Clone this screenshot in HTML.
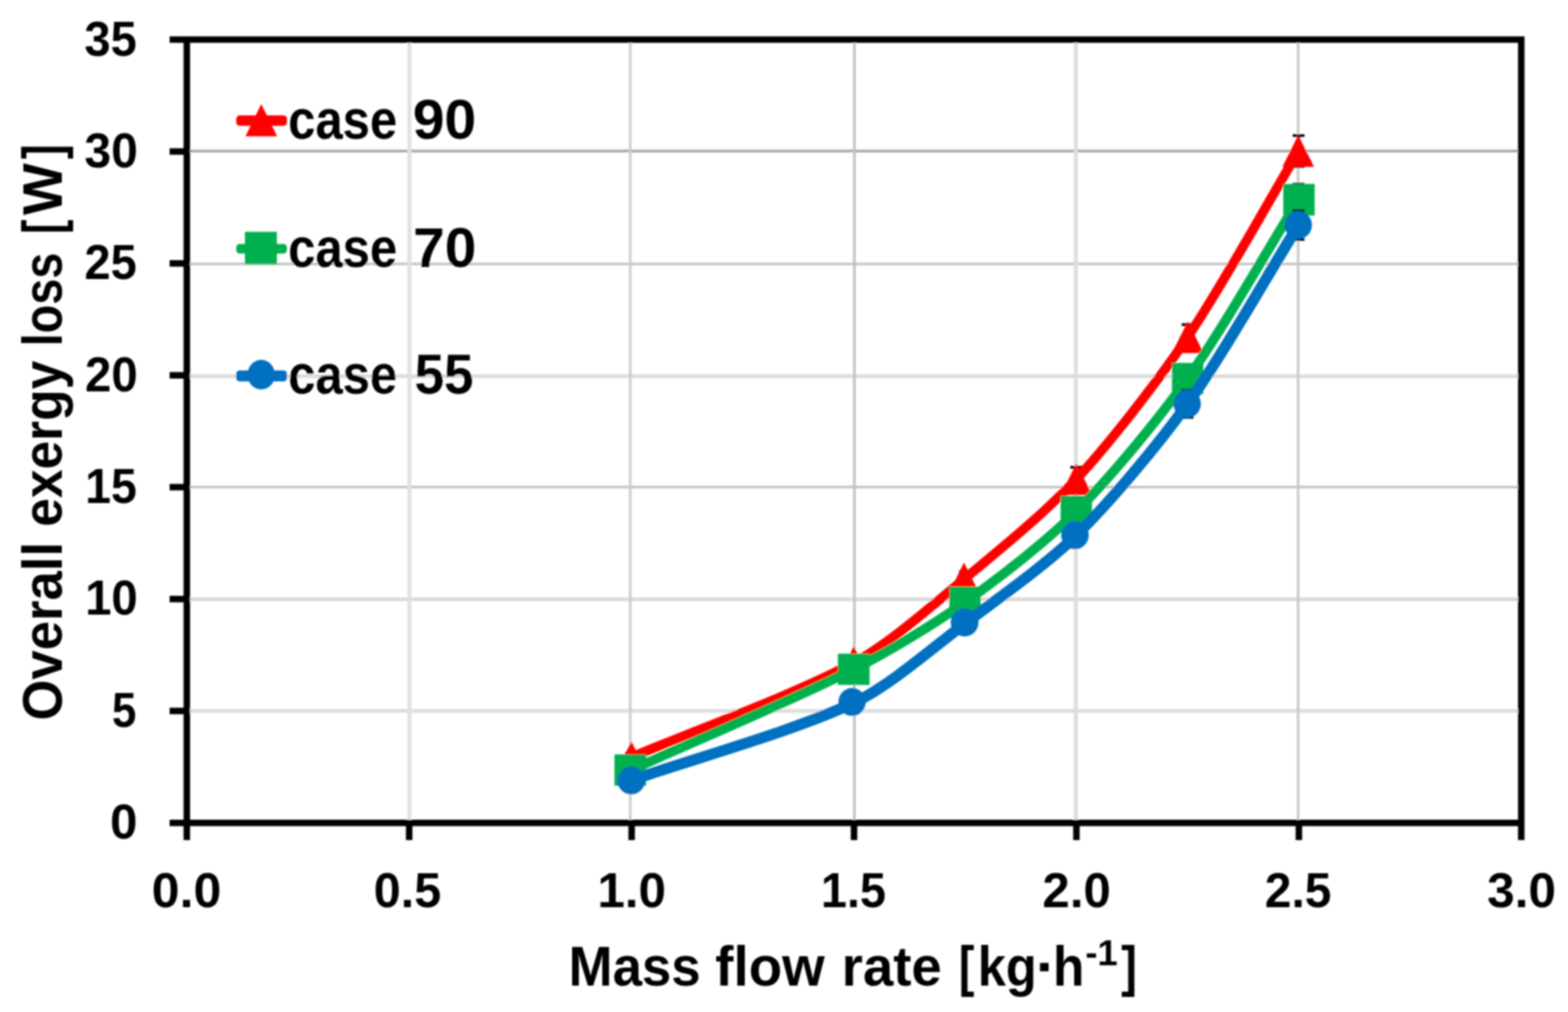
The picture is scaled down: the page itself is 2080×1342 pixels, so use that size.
<!DOCTYPE html>
<html lang="en"><head><meta charset="utf-8"><title>Overall exergy loss vs mass flow rate</title>
<style>
html,body{margin:0;padding:0;background:#fff;}
body{width:2080px;height:1342px;overflow:hidden;}
svg{display:block;}
text{font-family:"Liberation Sans",sans-serif;font-weight:bold;fill:#000;}
</style></head><body>
<svg width="2080" height="1342" viewBox="0 0 2080 1342">
<rect width="2080" height="1342" fill="#fff"/>
<defs><filter id="soft" x="-2%" y="-2%" width="104%" height="104%"><feGaussianBlur stdDeviation="0.8"/></filter></defs>
<g filter="url(#soft)">
<g>
<rect x="247.8" y="940.10" width="1770.2" height="5.20" fill="#dedede"/>
<rect x="247.8" y="792.20" width="1770.2" height="5.00" fill="#dadada"/>
<rect x="247.8" y="644.20" width="1770.2" height="3.40" fill="#c2c2c2"/>
<rect x="247.8" y="496.40" width="1770.2" height="5.00" fill="#dcdcdc"/>
<rect x="247.8" y="348.30" width="1770.2" height="3.40" fill="#c4c4c4"/>
<rect x="247.8" y="198.50" width="1770.2" height="3.60" fill="#a8a8a8"/>
<rect x="540.45" y="52.5" width="5.20" height="1038.7" fill="#e0e0e0"/>
<rect x="834.30" y="52.5" width="3.40" height="1038.7" fill="#cccccc"/>
<rect x="1131.60" y="52.5" width="3.60" height="1038.7" fill="#c2c2c2"/>
<rect x="1424.50" y="52.5" width="5.20" height="1038.7" fill="#dedede"/>
<rect x="1720.30" y="52.5" width="3.40" height="1038.7" fill="#c8c8c8"/>
</g>
<g>
<g stroke="#000" stroke-width="3.6" fill="none">
<path d="M837.0,999.4 V1009.4 M829.2,999.4 h15.6 M829.2,1009.4 h15.6"/>
<path d="M1132.6,873.8 V883.8 M1124.8,873.8 h15.6 M1124.8,883.8 h15.6"/>
<path d="M1280.0,758.1 V776.1 M1272.2,758.1 h15.6 M1272.2,776.1 h15.6"/>
<path d="M1427.7,619.6 V651.6 M1419.9,619.6 h15.6 M1419.9,651.6 h15.6"/>
<path d="M1575.3,430.5 V463.9 M1567.5,430.5 h15.6 M1567.5,463.9 h15.6"/>
<path d="M1722.6,179.8 V220.8 M1714.8,179.8 h15.6 M1714.8,220.8 h15.6"/>
</g>
<path d="M837.00,1004.40 C922.72,967.98 1051.07,922.47 1132.60,878.80 C1179.54,853.65 1238.64,801.18 1280.00,767.10 C1324.22,730.66 1388.95,677.57 1427.70,635.60 C1474.59,584.80 1536.45,504.55 1575.30,447.20 C1621.97,378.31 1679.88,271.90 1722.60,200.30" fill="none" stroke="#ff0000" stroke-width="12.6" stroke-linecap="round" stroke-linejoin="round"/>
<polygon points="837.50,983.20 858.50,1025.20 816.50,1025.20" fill="#ff0000"/>
<polygon points="1132.50,857.00 1153.50,899.00 1111.50,899.00" fill="#ff0000"/>
<polygon points="1278.80,746.10 1299.80,788.10 1257.80,788.10" fill="#ff0000"/>
<polygon points="1427.90,614.60 1448.90,656.60 1406.90,656.60" fill="#ff0000"/>
<polygon points="1575.60,426.20 1596.60,468.20 1554.60,468.20" fill="#ff0000"/>
<polygon points="1722.10,179.30 1743.10,221.30 1701.10,221.30" fill="#ff0000"/>
</g>
<g>
<g stroke="#000" stroke-width="3.6" fill="none">
<path d="M837.0,1016.1 V1026.1 M829.2,1016.1 h15.6 M829.2,1026.1 h15.6"/>
<path d="M1132.6,882.5 V892.5 M1124.8,882.5 h15.6 M1124.8,892.5 h15.6"/>
<path d="M1280.0,790.7 V806.7 M1272.2,790.7 h15.6 M1272.2,806.7 h15.6"/>
<path d="M1427.7,666.3 V690.3 M1419.9,666.3 h15.6 M1419.9,690.3 h15.6"/>
<path d="M1575.3,488.0 V516.0 M1567.5,488.0 h15.6 M1567.5,516.0 h15.6"/>
<path d="M1722.6,244.3 V285.5 M1714.8,244.3 h15.6 M1714.8,285.5 h15.6"/>
</g>
<path d="M837.00,1021.10 C922.72,982.36 1048.66,929.64 1132.60,887.50 C1177.13,865.15 1239.39,827.49 1280.00,798.70 C1324.97,766.82 1388.89,717.29 1427.70,678.30 C1474.53,631.25 1536.67,556.15 1575.30,502.00 C1622.19,436.26 1679.88,333.66 1722.60,264.90" fill="none" stroke="#00b050" stroke-width="12.8" stroke-linecap="round" stroke-linejoin="round"/>
<rect x="815.10" y="1000.40" width="42.00" height="41.50" fill="#00b050"/>
<rect x="1111.50" y="866.80" width="42.00" height="41.50" fill="#00b050"/>
<rect x="1259.45" y="777.95" width="41.50" height="41.50" fill="#00b050"/>
<rect x="1406.90" y="657.55" width="41.60" height="41.50" fill="#00b050"/>
<rect x="1554.65" y="481.25" width="41.50" height="41.50" fill="#00b050"/>
<rect x="1702.30" y="243.90" width="41.60" height="41.90" fill="#00b050"/>
</g>
<g>
<g stroke="#000" stroke-width="3.6" fill="none">
<path d="M837.0,1029.9 V1039.9 M829.2,1029.9 h15.6 M829.2,1039.9 h15.6"/>
<path d="M1132.6,927.0 V937.0 M1124.8,927.0 h15.6 M1124.8,937.0 h15.6"/>
<path d="M1280.0,818.8 V834.8 M1272.2,818.8 h15.6 M1272.2,834.8 h15.6"/>
<path d="M1427.7,696.7 V722.7 M1419.9,696.7 h15.6 M1419.9,722.7 h15.6"/>
<path d="M1575.3,517.5 V553.5 M1567.5,517.5 h15.6 M1567.5,553.5 h15.6"/>
<path d="M1722.6,279.5 V317.5 M1714.8,279.5 h15.6 M1714.8,317.5 h15.6"/>
</g>
<path d="M837.00,1034.90 C922.72,1005.06 1051.22,970.23 1132.60,932.00 C1179.69,909.88 1238.07,858.39 1280.00,826.80 C1323.65,793.92 1388.97,747.90 1427.70,709.70 C1474.61,663.42 1536.81,589.16 1575.30,535.50 C1622.34,469.92 1679.88,367.23 1722.60,298.50" fill="none" stroke="#0070c0" stroke-width="14.7" stroke-linecap="round" stroke-linejoin="round"/>
<ellipse cx="837.30" cy="1034.90" rx="18.25" ry="18.50" fill="#0070c0"/>
<ellipse cx="1130.30" cy="930.80" rx="18.10" ry="18.50" fill="#0070c0"/>
<ellipse cx="1279.60" cy="825.30" rx="18.40" ry="18.60" fill="#0070c0"/>
<ellipse cx="1426.00" cy="709.70" rx="18.25" ry="18.60" fill="#0070c0"/>
<ellipse cx="1574.80" cy="535.50" rx="18.10" ry="18.75" fill="#0070c0"/>
<ellipse cx="1722.20" cy="298.40" rx="18.10" ry="18.60" fill="#0070c0"/>
</g>
<g stroke="#000" stroke-width="8.6" fill="none" stroke-linecap="butt">
<path d="M225.0,52.5 H2018.0 V1114.0"/>
<path d="M247.8,52.5 V1114.0"/>
<path d="M225.0,1091.2 H2018.0"/>
<line x1="225.0" y1="942.8" x2="247.8" y2="942.8"/>
<line x1="225.0" y1="794.4" x2="247.8" y2="794.4"/>
<line x1="225.0" y1="646.0" x2="247.8" y2="646.0"/>
<line x1="225.0" y1="497.7" x2="247.8" y2="497.7"/>
<line x1="225.0" y1="349.3" x2="247.8" y2="349.3"/>
<line x1="225.0" y1="200.9" x2="247.8" y2="200.9"/>
<line x1="542.8" y1="1091.2" x2="542.8" y2="1114.0"/>
<line x1="837.9" y1="1091.2" x2="837.9" y2="1114.0"/>
<line x1="1132.9" y1="1091.2" x2="1132.9" y2="1114.0"/>
<line x1="1427.9" y1="1091.2" x2="1427.9" y2="1114.0"/>
<line x1="1723.0" y1="1091.2" x2="1723.0" y2="1114.0"/>
</g>
<text x="145.94" y="1112.20" font-size="64.0" textLength="36.31" lengthAdjust="spacingAndGlyphs">0</text>
<text x="148.38" y="963.81" font-size="64.0" textLength="32.37" lengthAdjust="spacingAndGlyphs">5</text>
<text x="112.88" y="815.43" font-size="64.0" textLength="69.85" lengthAdjust="spacingAndGlyphs">10</text>
<text x="112.95" y="667.04" font-size="64.0" textLength="68.45" lengthAdjust="spacingAndGlyphs">15</text>
<text x="112.84" y="518.66" font-size="64.0" textLength="69.89" lengthAdjust="spacingAndGlyphs">20</text>
<text x="112.05" y="370.27" font-size="64.0" textLength="69.38" lengthAdjust="spacingAndGlyphs">25</text>
<text x="112.01" y="221.89" font-size="64.0" textLength="70.76" lengthAdjust="spacingAndGlyphs">30</text>
<text x="112.05" y="73.50" font-size="64.0" textLength="69.38" lengthAdjust="spacingAndGlyphs">35</text>
<text x="201.39" y="1202.60" font-size="64.0" textLength="92.18" lengthAdjust="spacingAndGlyphs">0.0</text>
<text x="495.78" y="1202.60" font-size="64.0" textLength="89.50" lengthAdjust="spacingAndGlyphs">0.5</text>
<text x="792.40" y="1202.60" font-size="64.0" textLength="91.14" lengthAdjust="spacingAndGlyphs">1.0</text>
<text x="1088.92" y="1202.60" font-size="64.0" textLength="86.29" lengthAdjust="spacingAndGlyphs">1.5</text>
<text x="1382.86" y="1202.60" font-size="64.0" textLength="90.66" lengthAdjust="spacingAndGlyphs">2.0</text>
<text x="1677.81" y="1202.60" font-size="64.0" textLength="88.45" lengthAdjust="spacingAndGlyphs">2.5</text>
<text x="1972.75" y="1202.60" font-size="64.0" textLength="91.30" lengthAdjust="spacingAndGlyphs">3.0</text>
<rect x="313.4" y="153.10" width="67.2" height="13.6" rx="4.5" fill="#ff0000"/>
<polygon points="346.60,138.10 367.60,180.70 325.60,180.70" fill="#ff0000"/>
<text y="184.10" font-size="74.5"><tspan x="382.28" textLength="144.60" lengthAdjust="spacingAndGlyphs">case</tspan> <tspan x="547.45" textLength="84.38" lengthAdjust="spacingAndGlyphs">90</tspan></text>
<rect x="313.4" y="323.45" width="67.2" height="12.9" rx="4.5" fill="#00b050"/>
<rect x="324.90" y="307.40" width="42.40" height="43.00" fill="#00b050"/>
<text y="353.50" font-size="74.5"><tspan x="382.28" textLength="144.60" lengthAdjust="spacingAndGlyphs">case</tspan> <tspan x="548.07" textLength="83.74" lengthAdjust="spacingAndGlyphs">70</tspan></text>
<rect x="313.4" y="491.15" width="67.2" height="14.7" rx="4.5" fill="#0070c0"/>
<ellipse cx="346.50" cy="496.90" rx="18.20" ry="19.60" fill="#0070c0"/>
<text y="522.10" font-size="74.5"><tspan x="382.28" textLength="144.60" lengthAdjust="spacingAndGlyphs">case</tspan> <tspan x="549.91" textLength="78.26" lengthAdjust="spacingAndGlyphs">55</tspan></text>
<text y="1306.50" font-size="74.5"><tspan x="754.30" textLength="175.16" lengthAdjust="spacingAndGlyphs">Mass</tspan> <tspan x="948.83" textLength="145.14" lengthAdjust="spacingAndGlyphs">flow</tspan> <tspan x="1116.55" textLength="132.65" lengthAdjust="spacingAndGlyphs">rate</tspan> <tspan x="1271.84" textLength="20.84" lengthAdjust="spacingAndGlyphs">[</tspan><tspan x="1296.89" textLength="78.37" lengthAdjust="spacingAndGlyphs">kg</tspan><tspan x="1374.05" textLength="27.07" lengthAdjust="spacingAndGlyphs">·</tspan><tspan x="1396.82" textLength="41.72" lengthAdjust="spacingAndGlyphs">h</tspan><tspan x="1439.68" y="1280.30" font-size="48" textLength="43.02" lengthAdjust="spacingAndGlyphs">-1</tspan><tspan x="1487.15" y="1306.50" font-size="74.5" textLength="21.09" lengthAdjust="spacingAndGlyphs">]</tspan></text>
<text transform="translate(82.00,0) rotate(-90)" y="0" font-size="74.5"><tspan x="-955.51" textLength="236.90" lengthAdjust="spacingAndGlyphs">Overall</tspan> <tspan x="-698.55" textLength="220.16" lengthAdjust="spacingAndGlyphs">exergy</tspan> <tspan x="-459.17" textLength="124.23" lengthAdjust="spacingAndGlyphs">loss</tspan> <tspan x="-310.16" textLength="18.98" lengthAdjust="spacingAndGlyphs">[</tspan><tspan x="-285.20" textLength="68.82" lengthAdjust="spacingAndGlyphs">W</tspan><tspan x="-210.90" textLength="19.73" lengthAdjust="spacingAndGlyphs">]</tspan></text>
</g>
</svg>
</body></html>
